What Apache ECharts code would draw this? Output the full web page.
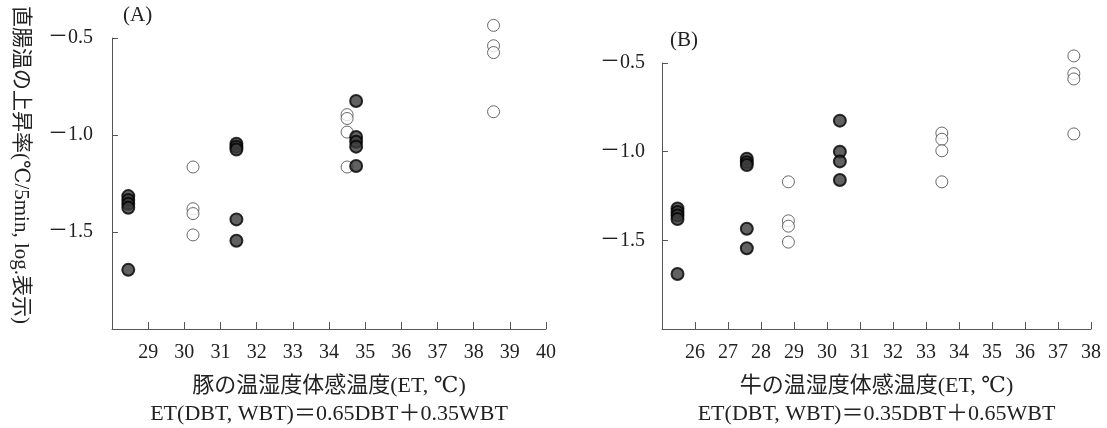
<!DOCTYPE html>
<html>
<head>
<meta charset="utf-8">
<script src="https://cdn.jsdelivr.net/npm/echarts@6/dist/echarts.min.js"></script>
<style>
  html, body { margin: 0; padding: 0; background: #fff; }
  #chart { width: 1107px; height: 428px; }
</style>
</head>
<body>
<div id="chart"></div>
<script>
// (A) 豚
var pigFilledX = [28.45, 31.44, 34.75];
var pigFilledY = [
    [-1.315, -1.335, -1.355, -1.375, -1.695],
    [-1.045, -1.06, -1.075, -1.435, -1.545],
    [-0.825, -1.01, -1.035, -1.06, -1.16]
];
var pigOpenX = [30.24, 34.5, 38.55];
var pigOpenY = [
    [-1.165, -1.38, -1.405, -1.515],
    [-0.895, -0.915, -0.985, -1.165],
    [-0.435, -0.54, -0.575, -0.88]
];

// (B) 牛
var cowFilledX = [25.47, 27.57, 30.39];
var cowFilledY = [
    [-1.32, -1.34, -1.36, -1.38, -1.69],
    [-1.04, -1.06, -1.075, -1.435, -1.545],
    [-0.825, -1.0, -1.055, -1.16]
];
var cowOpenX = [28.83, 33.48, 37.48];
var cowOpenY = [
    [-1.17, -1.39, -1.42, -1.51],
    [-0.895, -0.93, -0.995, -1.17],
    [-0.46, -0.56, -0.59, -0.9]
];

var yTicks = [-2.0, -1.5, -1.0, -0.5];

function pairs(xs, ys) {
    var out = [];
    xs.forEach(function (x, i) {
        ys[i].forEach(function (y) { out.push([x, y]); });
    });
    return out;
}

var font = '"Liberation Serif", "DejaVu Serif", "Noto Sans CJK JP", serif';
var ink = '#222';

function xAxisFor(idx, min, max, name) {
    return {
        gridIndex: idx, type: 'value', min: min, max: max, interval: 1,
        axisLine: { lineStyle: { color: '#555', width: 1 } },
        axisTick: { inside: true, length: 7, lineStyle: { color: '#555' } },
        splitLine: { show: false },
        axisLabel: {
            color: ink, fontFamily: font, fontSize: 20, margin: 14,
            formatter: function (v) { return v === min ? '' : String(v); }
        },
        name: name, nameLocation: 'middle', nameGap: 43, nameMoveOverlap: false,
        nameTextStyle: { color: ink, fontFamily: font, fontSize: 22, lineHeight: 28, verticalAlign: 'top' }
    };
}

function yAxisFor(idx) {
    return {
        gridIndex: idx, type: 'value', min: yTicks[0], max: yTicks[yTicks.length - 1], interval: 0.5,
        axisLine: { show: true, lineStyle: { color: '#555', width: 1 } },
        axisTick: { show: true, inside: true, length: 6, lineStyle: { color: '#555' } },
        splitLine: { show: false },
        axisLabel: {
            color: ink, fontFamily: font, fontSize: 20, margin: idx === 0 ? 19 : 17,
            formatter: function (v) {
                if (v <= -2) return '';
                return '\uFF0D' + Math.abs(v).toFixed(1);
            }
        }
    };
}

var filledStyle = { color: '#3a3a3a', borderColor: '#000', borderWidth: 2 };
var openStyle = { color: '#fff', borderColor: '#444', borderWidth: 1 };

function scatter(idx, data, style, size) {
    return {
        type: 'scatter', xAxisIndex: idx, yAxisIndex: idx,
        symbol: 'circle', symbolSize: size, clip: false,
        itemStyle: style, data: data
    };
}

var chart = echarts.init(document.getElementById('chart'));
chart.setOption({
    backgroundColor: '#fff',
    animation: false,
    title: [
        { text: '(A)', left: 118, top: 0, textStyle: { fontFamily: font, fontSize: 21, fontWeight: 'normal', color: ink } },
        { text: '(B)', left: 665, top: 25, textStyle: { fontFamily: font, fontSize: 21, fontWeight: 'normal', color: ink } }
    ],
    grid: [
        { left: 112, right: 561, top: 38, bottom: 99, outerBoundsMode: 'none' },
        { left: 662, right: 16, top: 63, bottom: 99, outerBoundsMode: 'none' }
    ],
    xAxis: [
        xAxisFor(0, 28, 40, '豚の温湿度体感温度(ET, ℃)\nET(DBT, WBT)＝0.65DBT＋0.35WBT'),
        xAxisFor(1, 25, 38, '牛の温湿度体感温度(ET, ℃)\nET(DBT, WBT)＝0.35DBT＋0.65WBT')
    ],
    yAxis: [yAxisFor(0), yAxisFor(1)],
    graphic: [{
        type: 'text', x: 21, y: 165, rotation: -Math.PI / 2,
        style: {
            text: '直腸温の上昇率(℃/5min, log.表示)',
            fontFamily: font, fontSize: 21, fill: ink,
            align: 'center', verticalAlign: 'middle'
        }
    }],
    series: [
        scatter(0, pairs(pigOpenX, pigOpenY), openStyle, 12),
        scatter(0, pairs(pigFilledX, pigFilledY), filledStyle, 12),
        scatter(1, pairs(cowOpenX, cowOpenY), openStyle, 12),
        scatter(1, pairs(cowFilledX, cowFilledY), filledStyle, 12)
    ]
});
</script>
</body>
</html>
